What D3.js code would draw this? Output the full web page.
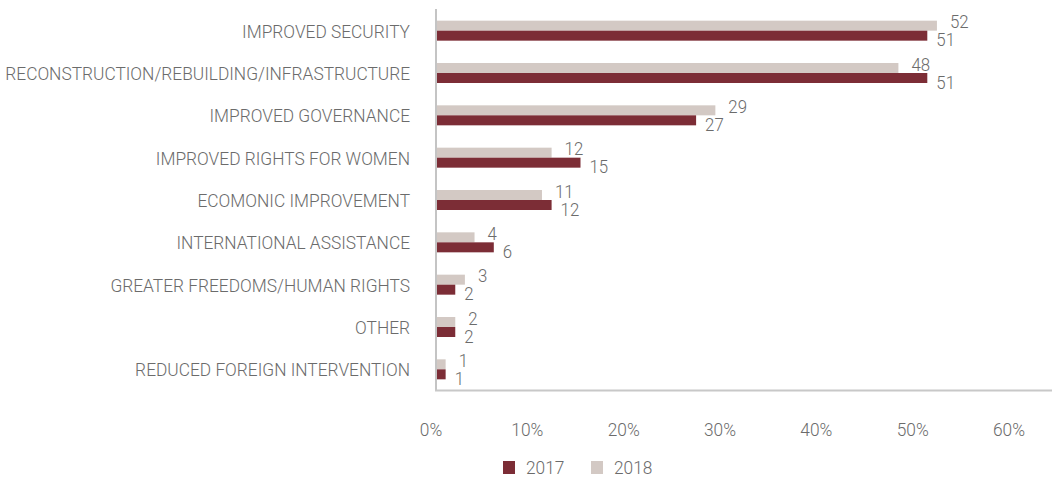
<!DOCTYPE html>
<html>
<head>
<meta charset="utf-8">
<script src="https://cdn.jsdelivr.net/npm/d3@7"></script>
<style>
  html, body { margin: 0; padding: 0; background: #ffffff; }
  svg { display: block; }
  text { font-family: Roboto, "Liberation Sans", sans-serif; font-weight: 300; fill: #6b6b6b; }
</style>
</head>
<body>
<svg id="chart" width="1052" height="477"></svg>
<script>
// Reasons for optimism, share of respondents (%), by survey year
const categories = [
  "IMPROVED SECURITY",
  "RECONSTRUCTION/REBUILDING/INFRASTRUCTURE",
  "IMPROVED GOVERNANCE",
  "IMPROVED RIGHTS FOR WOMEN",
  "ECOMONIC IMPROVEMENT",
  "INTERNATIONAL ASSISTANCE",
  "GREATER FREEDOMS/HUMAN RIGHTS",
  "OTHER",
  "REDUCED FOREIGN INTERVENTION"
];
const values2017 = [51, 51, 27, 15, 12, 6, 2, 2, 1];
const values2018 = [52, 48, 29, 12, 11, 4, 3, 2, 1];
const seriesNames = ["2017", "2018"];
const xTicks = [0, 10, 20, 30, 40, 50, 60];

const colors = { "2017": "#7c2d36", "2018": "#d3c9c4" };

const svg = d3.select("#chart");
const fontSize = 18;

// condensed look: measure a reference string and squeeze all text horizontally
const probe = svg.append("text").attr("font-size", fontSize).text(categories[1]);
const squeeze = 405 / probe.node().getComputedTextLength();
probe.remove();

function label(g, x, y, str, anchor, size) {
  return g.append("text")
    .attr("transform", `translate(${x},${y}) scale(${squeeze},1)`)
    .attr("text-anchor", anchor)
    .attr("dominant-baseline", "central")
    .attr("font-size", size || fontSize)
    .text(str);
}

const x = d3.scaleLinear().domain([0, 60]).range([436, 1014]);
const y = d3.scaleBand().domain(categories).range([9.5, 390.5]);
const barH = 10;

const rows = categories.map((c, i) => ({ cat: c, v2017: values2017[i], v2018: values2018[i] }));

// bars: 2018 above, 2017 below the row centre
const gBars = svg.append("g");
rows.forEach(r => {
  const cy = y(r.cat) + y.bandwidth() / 2;
  gBars.append("rect")
    .attr("x", x(0)).attr("y", cy - barH)
    .attr("width", x(r.v2018) - x(0)).attr("height", barH)
    .attr("fill", colors["2018"]);
  gBars.append("rect")
    .attr("x", x(0)).attr("y", cy)
    .attr("width", x(r.v2017) - x(0)).attr("height", barH)
    .attr("fill", colors["2017"]);
});

// axis lines
svg.append("line")
  .attr("x1", x(0)).attr("x2", x(0))
  .attr("y1", 9).attr("y2", 391)
  .attr("stroke", "#c4c4c4").attr("stroke-width", 2);
svg.append("line")
  .attr("x1", x(0) - 1).attr("x2", 1052)
  .attr("y1", 390.5).attr("y2", 390.5)
  .attr("stroke", "#c8c8c8").attr("stroke-width", 2);

// category labels
const gCat = svg.append("g");
rows.forEach(r => {
  label(gCat, 410, y(r.cat) + y.bandwidth() / 2 + 1, r.cat, "end");
});

// value labels: 2018 above-right, 2017 below-right of the bar ends
const gVal = svg.append("g");
rows.forEach(r => {
  const cy = y(r.cat) + y.bandwidth() / 2;
  label(gVal, x(r.v2018) + 13, cy - barH / 2 - 3.5, String(r.v2018), "start", 17.5);
  label(gVal, x(r.v2017) + 9, cy + barH / 2 + 4.5, String(r.v2017), "start", 17.5);
});

// x tick labels
const gTicks = svg.append("g");
xTicks.forEach(t => {
  label(gTicks, x(t) - 5, 430, t + "%", "middle");
});

// legend
const gLeg = svg.append("g");
const legX = [503, 591];
seriesNames.forEach((s, i) => {
  gLeg.append("rect")
    .attr("x", legX[i]).attr("y", 461)
    .attr("width", 12).attr("height", 13)
    .attr("fill", colors[s]);
  label(gLeg, legX[i] + 23, 467.5, s, "start");
});
</script>
</body>
</html>
